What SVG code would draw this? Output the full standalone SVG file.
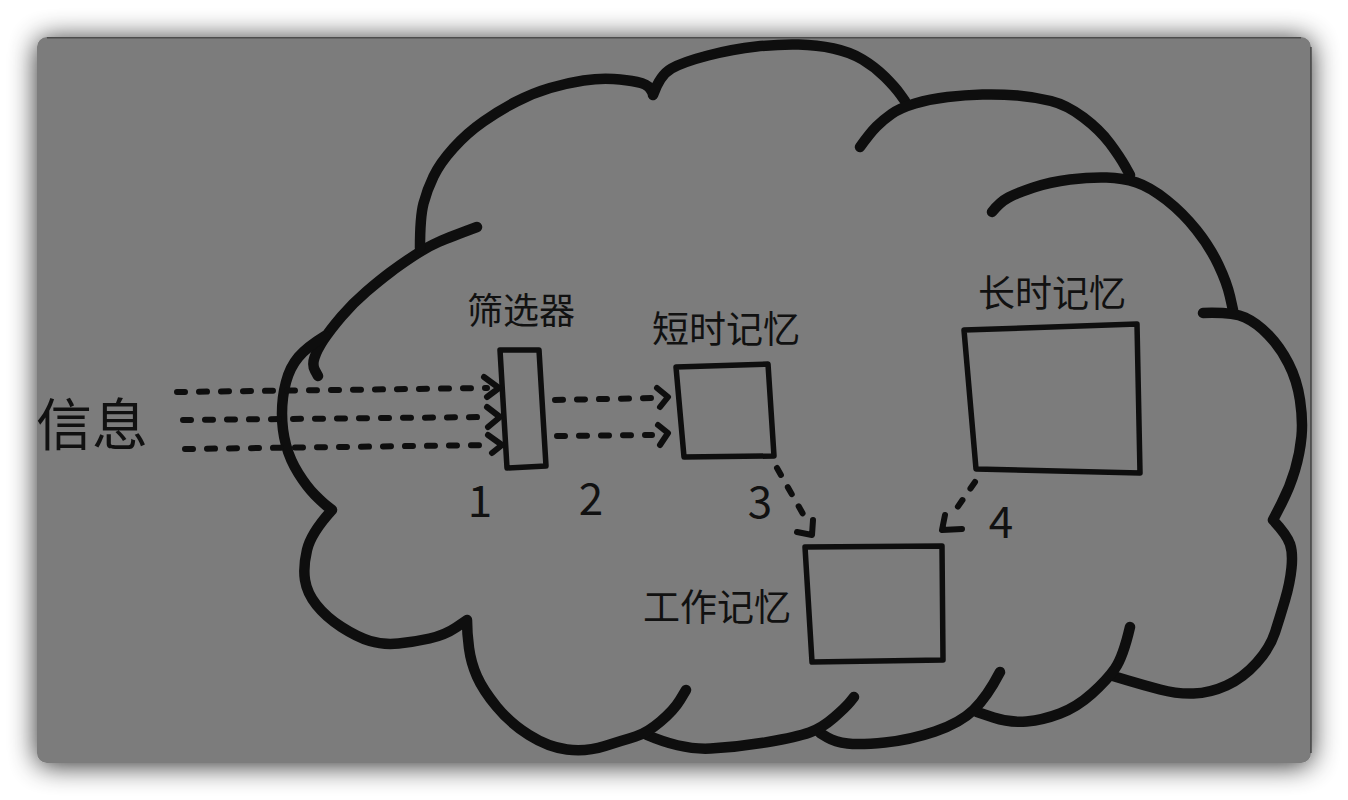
<svg xmlns="http://www.w3.org/2000/svg" width="1348" height="800" viewBox="0 0 1348 800">
  <defs>
    <filter id="shadow" x="-10%" y="-15%" width="120%" height="130%">
      <feGaussianBlur in="SourceAlpha" stdDeviation="14"/>
      <feOffset dx="0" dy="2" result="b"/>
      <feComponentTransfer><feFuncA type="linear" slope="0.85"/></feComponentTransfer>
      <feMerge><feMergeNode/><feMergeNode in="SourceGraphic"/></feMerge>
    </filter>
  </defs>
  <style>
    .cloud { fill: none; stroke: #0e0e0e; stroke-width: 10.5; stroke-linecap: round; stroke-linejoin: round; }
    .box { fill: none; stroke: #0e0e0e; stroke-width: 5.5; stroke-linejoin: round; stroke-linecap: round; }
    .dash { fill: none; stroke: #0e0e0e; stroke-width: 6; stroke-linecap: round; stroke-dasharray: 8 14; }
    .head { fill: none; stroke: #0e0e0e; stroke-width: 6; stroke-linecap: round; stroke-linejoin: round; }
    .lbl { font-family: "Noto Sans CJK SC", "Noto Sans", sans-serif; fill: #111; }
    .num { font-family: "Noto Sans CJK SC", "Noto Sans", sans-serif; fill: #111; font-size: 44px; text-anchor: middle; }
  </style>
  <rect width="1348" height="800" fill="#ffffff"/>
  <g id="background">
    <rect x="37" y="37" width="1274" height="726" rx="10" ry="10" fill="#7b7b7b" filter="url(#shadow)"/>
    <path d="M47,37.8 L1301,37.8" stroke="#4c4c4c" stroke-width="1.5" fill="none"/>
    <path d="M1311,47 L1311,753" stroke="#333" stroke-width="1.2" fill="none"/>
  </g>
  <g id="cloud">
    <path class="cloud" d="M477,227 Q450,237 438.5,242 Q427,247 413.5,256 Q400,265 390,272.5 Q380,280 366.5,291.5 Q353,303 341.5,316.5 Q330,330 323.5,340 Q317,350 314.5,357.5 Q312,365 315,370.5 L318,376"/>
    <path class="cloud" d="M420,248 Q420,217 423.5,203.5 Q427,190 433.5,176.5 Q440,163 453.5,148 Q467,133 483.5,121.5 Q500,110 516.5,101.5 Q533,93 550,88 Q567,83 583.5,80.5 Q600,78 613.5,79 Q627,80 637,82 Q647,84 650,88.5 L653,93"/>
    <path class="cloud" d="M653,95 Q660,75 671.5,68.5 Q683,62 708,55.5 Q733,49 756.5,46.5 Q780,44 798.5,44.5 Q817,45 833.5,48.5 Q850,52 862.5,59.5 Q875,67 885,77 Q895,87 900,94 L905,101"/>
    <path class="cloud" d="M860,147 Q870,133 876.5,126.5 Q883,120 891.5,114 Q900,108 915,103.5 Q930,99 947.5,97 Q965,95 982.5,94.5 Q1000,94 1017.5,95.5 Q1035,97 1051,101 Q1067,105 1083.5,117.5 Q1100,130 1110,143.5 Q1120,157 1125,166 L1130,175"/>
    <path class="cloud" d="M992,212 Q1000,202 1008.5,197.5 Q1017,193 1033.5,187.5 Q1050,182 1070,179.5 Q1090,177 1106.5,177.5 Q1123,178 1136.5,182.5 Q1150,187 1166.5,200 Q1183,213 1196.5,230 Q1210,247 1218.5,265 Q1227,283 1230,296.5 L1233,310"/>
    <path class="cloud" d="M1203,313 Q1233,312 1245,317.5 Q1257,323 1268.5,335 Q1280,347 1288.5,363.5 Q1297,380 1300,400 Q1303,420 1301.5,436.5 Q1300,453 1295,470 Q1290,487 1281.5,503.5 L1273,520 Q1287,535 1290,544 Q1293,553 1291.5,568 Q1290,583 1285,600 Q1280,617 1275,632.5 Q1270,648 1256.5,663 Q1243,678 1226.5,685.5 Q1210,693 1193.5,693.5 Q1177,694 1160,689.5 Q1143,685 1128,680.5 L1113,676"/>
    <path class="cloud" d="M1130,627 Q1123,657 1115,668.5 Q1107,680 1092,693.5 Q1077,707 1060,713.5 Q1043,720 1026.5,721.5 Q1010,723 993.5,717.5 L977,712"/>
    <path class="cloud" d="M1000,672 Q987,697 973.5,710 Q960,723 935,731.5 Q910,740 885,742.5 Q860,745 847.5,743.5 Q835,742 827.5,737.5 L820,733"/>
    <path class="cloud" d="M647,735 Q682,750 710.5,748.5 Q739,747 768,742 Q797,737 809.5,732.5 Q822,728 834,717.5 Q846,707 850,702 L854,697"/>
    <path class="cloud" d="M325,336 Q307,347 298.5,357 Q290,367 286,382 Q282,397 282,413.5 Q282,430 286,445 Q290,460 298.5,473.5 Q307,487 315,495 Q323,503 327.5,506.5 L332,510 Q311,533 307,550 Q303,567 305,580 Q307,593 316.5,605 Q326,617 341.5,627 Q357,637 370,641 Q383,645 398.5,643.5 Q414,642 429.5,638.5 Q445,635 456,627.5 L467,620 Q467,633 469,648 Q471,663 477,676.5 Q483,690 496.5,706.5 Q510,723 529,735 Q548,747 567,749.5 Q586,752 605,746 Q624,740 635.5,736.5 Q647,733 660.5,721.5 Q674,710 680,700 L686,690"/>
  </g>
  <g id="info">
    <text class="lbl" x="36" y="445" font-size="56">信息</text>
  </g>
  <g id="filter">
    <path class="box" d="M500,350 L539,350 L546,466 L507,468 Z"/>
    <text class="lbl" x="467" y="324" font-size="36">筛选器</text>
  </g>
  <g id="short-term-memory">
    <path class="box" d="M676,367 L768,364 L774,456 L684,457 Z"/>
    <text class="lbl" x="652" y="343" font-size="37">短时记忆</text>
  </g>
  <g id="long-term-memory">
    <path class="box" d="M964,330 L1137,324 L1140,473 L976,469 Z"/>
    <text class="lbl" x="978" y="307" font-size="37">长时记忆</text>
  </g>
  <g id="working-memory">
    <path class="box" d="M805,547 L942,546 L943,660 L812,662 Z"/>
    <text class="lbl" x="643" y="621" font-size="37">工作记忆</text>
  </g>
  <g id="connectors">
    <path class="dash" d="M177,392 L487,388"/>
    <path class="head" d="M484,377 L499,388 L487,397"/>
    <path class="dash" d="M183,420 L489,417"/>
    <path class="head" d="M487,407 L500,417 L488,427"/>
    <path class="dash" d="M185,449 L491,445"/>
    <path class="head" d="M488,435 L502,445 L492,453"/>
    <path class="dash" d="M555,400 L653,398"/>
    <path class="head" d="M657,388 L668,397 L660,407"/>
    <path class="dash" d="M557,436 L652,435"/>
    <path class="head" d="M658,425 L668,433 L660,445"/>
    <path class="dash" d="M777,468 L803,514"/>
    <path class="head" d="M797,532 L812,535 L813,520"/>
    <path class="dash" d="M975,482 L950,518"/>
    <path class="head" d="M945,515 L942,530 L962,529"/>
    <text class="num" x="480" y="517">1</text>
    <text class="num" x="591" y="515">2</text>
    <text class="num" x="760" y="518">3</text>
    <text class="num" x="1001" y="538">4</text>
  </g>
</svg>
